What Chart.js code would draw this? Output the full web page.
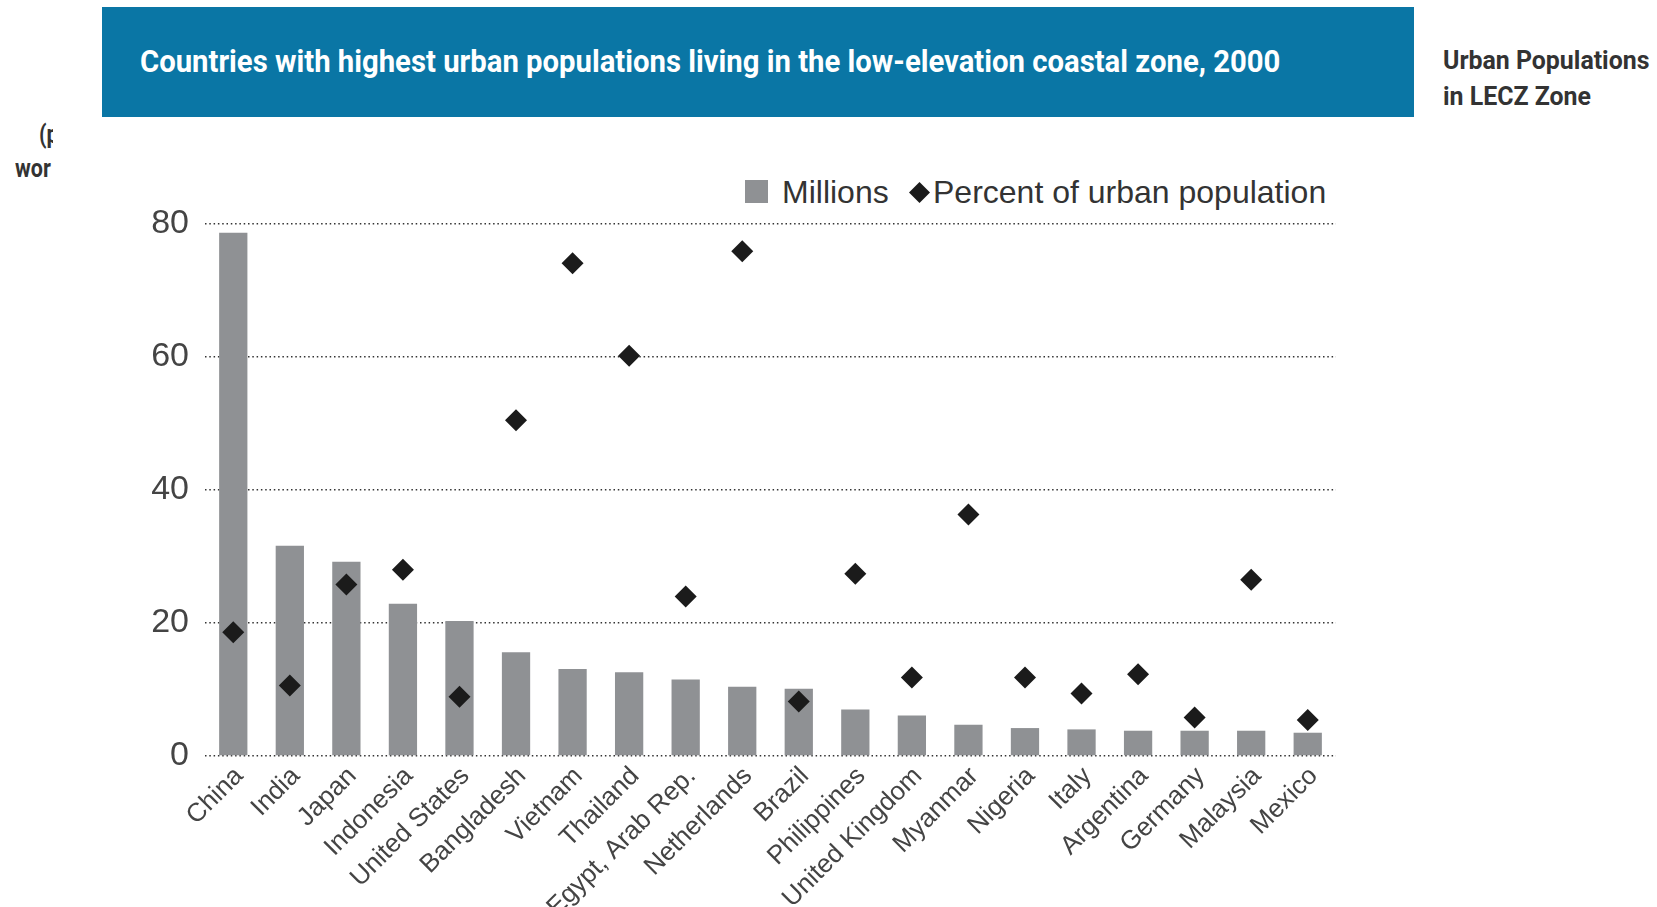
<!DOCTYPE html>
<html>
<head>
<meta charset="utf-8">
<script src="https://cdn.jsdelivr.net/npm/chart.js@4.4.1/dist/chart.umd.min.js"></script>
<style>
  body { margin: 0; background: #fff; }
  #page { position: relative; width: 1657px; height: 907px; overflow: hidden; background: #fff; }
  #banner { position: absolute; left: 102px; top: 7px; width: 1312px; height: 110px; background: #0a76a5; }
  .squeeze { position: absolute; white-space: nowrap; transform-origin: 0 50%; font-family: Roboto, "Open Sans", sans-serif; font-weight: bold; }
  #title { left: 140px; top: 42px; height: 38px; line-height: 38px; font-size: 32px; color: #fff; }
  #side1 { left: 1443px; top: 46px; height: 30px; line-height: 30px; font-size: 25px; color: #333; }
  #side2 { left: 1443px; top: 82px; height: 30px; line-height: 30px; font-size: 25px; color: #333; }
  #frag { position: absolute; left: 0; top: 118px; width: 53px; height: 70px; overflow: hidden; }
  #frag .squeeze { font-size: 25px; color: #333; line-height: 28px; height: 28px; }
  .leg { position: absolute; font-family: "Liberation Sans", Arial, sans-serif; font-size: 32px; color: #333; line-height: 36px; white-space: nowrap; }
  #legBox { position: absolute; left: 745px; top: 180px; width: 23px; height: 23px; background: #8f9194; }
  #legDia { position: absolute; left: 909px; top: 182px; width: 21px; height: 21px; background: #1b1b1b; clip-path: polygon(50% 0, 100% 50%, 50% 100%, 0 50%); }
  #chartBox { position: absolute; left: 0; top: 0; width: 1400px; height: 907px; }
</style>
</head>
<body>
<div id="page">
  <div id="banner"></div>
  <span id="title" class="squeeze" data-w="1140">Countries with highest urban populations living in the low-elevation coastal zone, 2000</span>
  <span id="side1" class="squeeze" data-w="206">Urban Populations</span>
  <span id="side2" class="squeeze" data-ref="side1">in LECZ Zone</span>
  <div id="frag">
    <span class="squeeze" style="left:39px; top:3px;">(p</span>
    <span class="squeeze" style="left:15px; top:37px;">wor</span>
  </div>
  <div id="legBox"></div>
  <span class="leg" style="left:782px; top:174px;">Millions</span>
  <div id="legDia"></div>
  <span class="leg" style="left:933px; top:174px;">Percent of urban population</span>
  <div id="chartBox"><canvas id="chart" width="1400" height="907"></canvas></div>
</div>
<script>
// data
const countries = ['China', 'India', 'Japan', 'Indonesia', 'United States', 'Bangladesh', 'Vietnam',
  'Thailand', 'Egypt, Arab Rep.', 'Netherlands', 'Brazil', 'Philippines', 'United Kingdom', 'Myanmar',
  'Nigeria', 'Italy', 'Argentina', 'Germany', 'Malaysia', 'Mexico'];
const millions = [78.7, 31.6, 29.2, 22.9, 20.3, 15.6, 13.1, 12.6, 11.5, 10.4, 10.1, 7.0, 6.1, 4.7, 4.2, 4.0, 3.8, 3.8, 3.8, 3.5];
const percentUrban = [18.6, 10.6, 25.8, 28.0, 8.9, 50.5, 74.1, 60.2, 24.0, 75.9, 8.2, 27.4, 11.8, 36.3, 11.8, 9.4, 12.3, 5.8, 26.5, 5.4];
const yTicks = [0, 20, 40, 60, 80];

// squeeze the condensed-looking headings to their widths in the picture
const scales = {};
document.querySelectorAll('.squeeze').forEach(el => {
  if (el.dataset.w) {
    scales[el.id] = Number(el.dataset.w) / el.offsetWidth;
  }
});
document.querySelectorAll('.squeeze').forEach(el => {
  let s = 0.86;
  if (el.dataset.w) s = scales[el.id];
  if (el.dataset.ref) s = scales[el.dataset.ref];
  el.style.transform = 'scaleX(' + s + ')';
});

const ctx = document.getElementById('chart');
new Chart(ctx, {
  type: 'bar',
  data: {
    labels: countries,
    datasets: [
      {
        type: 'line',
        label: 'Percent of urban population',
        data: percentUrban,
        showLine: false,
        pointStyle: 'rectRot',
        pointRadius: 11,
        pointBackgroundColor: '#1b1b1b',
        pointBorderWidth: 0,
        order: 1
      },
      {
        label: 'Millions',
        data: millions,
        backgroundColor: '#8f9194',
        categoryPercentage: 1,
        barPercentage: 0.5,
        order: 2
      }
    ]
  },
  options: {
    responsive: false,
    animation: false,
    layout: { padding: { top: 224, right: 64, left: 0, bottom: 0 } },
    plugins: { legend: { display: false }, tooltip: { enabled: false } },
    scales: {
      x: {
        grid: { display: false },
        border: { display: false },
        ticks: {
          autoSkip: false,
          maxRotation: 45,
          minRotation: 45,
          padding: -3,
          labelOffset: 6,
          color: '#444',
          font: { family: 'Liberation Sans', size: 26 }
        },
        afterFit: axis => { axis.height = 151; }
      },
      y: {
        min: yTicks[0],
        max: yTicks[yTicks.length - 1],
        afterBuildTicks: axis => { axis.ticks = yTicks.map(v => ({ value: v })); },
        grid: { color: '#333', lineWidth: 1.5, drawTicks: false },
        border: { display: false, dash: [1.5, 2.8] },
        ticks: {
          padding: 16,
          color: '#444',
          font: { family: 'Liberation Sans', size: 34 }
        },
        afterFit: axis => { axis.width = 205; }
      }
    }
  }
});
</script>
</body>
</html>
